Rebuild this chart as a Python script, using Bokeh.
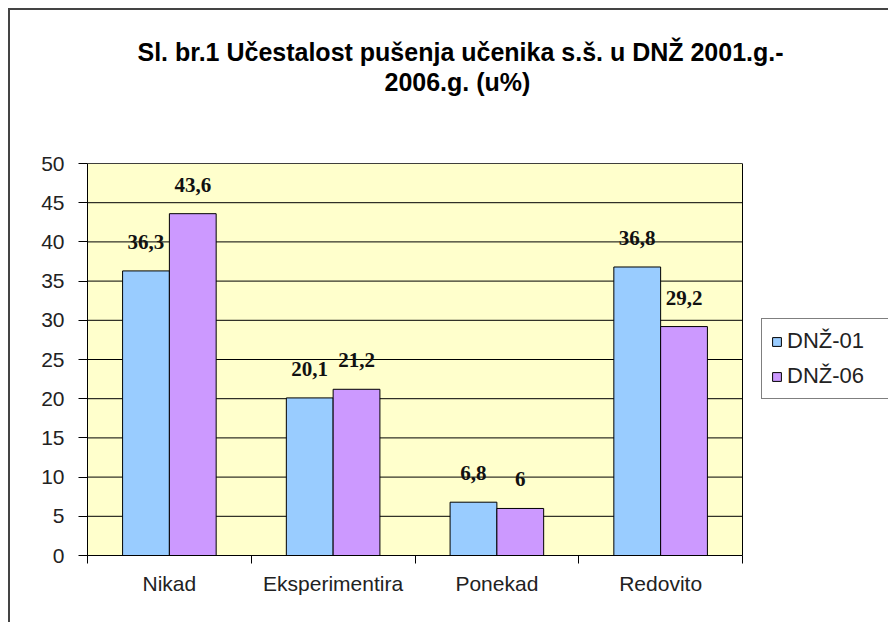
from bokeh.plotting import figure
from bokeh.models import Range1d, FixedTicker, Legend, LegendItem, ColumnDataSource, Title
from bokeh.core.properties import value
from bokeh.embed import file_html
from bokeh.resources import INLINE

# ---- data ----
title_line1 = "Sl. br.1 Učestalost pušenja učenika s.š. u DNŽ 2001.g.-"
title_line2 = "2006.g. (u%)"
categories = ["Nikad", "Eksperimentira", "Ponekad", "Redovito"]
series_names = ["DNŽ-01", "DNŽ-06"]
dnz01 = [36.3, 20.1, 6.8, 36.8]
dnz06 = [43.6, 21.2, 6.0, 29.2]
y_ticks = [0, 5, 10, 15, 20, 25, 30, 35, 40, 45, 50]

colors = ["#99CCFF", "#CC99FF"]

# ---- layout helpers ----
n_cat = len(categories)
y_max = y_ticks[-1]
plot_w = 655          # pixel width of the yellow plot area
frame_w = 801         # frame also holds the legend to the right of the plot area
x_end = n_cat * frame_w / plot_w

bar_w = 1 / 3.5
idx = list(range(n_cat))
x01 = [i + 0.5 - bar_w / 2 for i in idx]
x06 = [i + 0.5 + bar_w / 2 for i in idx]

def fmt(v):
    return f"{v:g}".replace(".", ",")

src01 = ColumnDataSource(dict(x=x01, top=dnz01, lab=[fmt(v) for v in dnz01]))
src06 = ColumnDataSource(dict(x=x06, top=dnz06, lab=[fmt(v) for v in dnz06]))
sources = [src01, src06]

p = figure(frame_width=frame_w, frame_height=392,
           x_range=Range1d(0, x_end), y_range=Range1d(0, y_max),
           output_backend="svg", toolbar_location=None,
           min_border_left=77, min_border_right=0, min_border_top=153, min_border_bottom=67)
p.styles = {"margin-left": "8px", "margin-top": "8px",
            "border-top": "2px solid #444", "border-left": "2px solid #444"}
p.background_fill_color = "white"
p.border_fill_color = "white"
p.outline_line_color = None

# titles: p.title is the outer line; spacer then line 2 are stacked from the plot outwards
def title_style(t):
    t.text_font = "Liberation Sans"
    t.text_font_size = "25px"
    t.text_font_style = "bold"
    t.text_color = "black"
    t.align = "left"

p.title.text = title_line1
title_style(p.title)
p.title.offset = 50
p.title.standoff = 0
spacer = Title(text=" ", text_font_size="1px", standoff=65)
p.add_layout(spacer, "above")
t2 = Title(text=title_line2, offset=297, standoff=0)
title_style(t2)
p.add_layout(t2, "above")

# plot area: yellow box with black border, horizontal grid lines
p.xgrid.visible = False
p.ygrid.visible = False
p.quad(left=[0], right=[n_cat], bottom=[0], top=[y_max],
       fill_color="#FFFFCC", line_color="black", line_width=1)
p.segment(x0=[0] * len(y_ticks), x1=[n_cat] * len(y_ticks), y0=y_ticks, y1=y_ticks,
          line_color="black", line_width=1)

# y axis
ya = p.yaxis[0]
ya.ticker = FixedTicker(ticks=y_ticks)
ya.axis_line_color = "black"
ya.major_tick_line_color = "black"
ya.major_tick_out = 9
ya.major_tick_in = 0
ya.minor_tick_line_color = None
ya.major_label_text_font = "Liberation Sans"
ya.major_label_text_font_size = "21px"
ya.major_label_text_color = "#222222"
ya.major_label_standoff = 14

# x axis: labels at category centres, tick marks at category boundaries
centers = [i + 0.5 for i in idx]
bounds = list(range(n_cat + 1))
xa = p.xaxis[0]
xa.bounds = (0, n_cat)
xa.ticker = FixedTicker(ticks=centers, minor_ticks=bounds)
xa.major_label_overrides = {c: n for c, n in zip(centers, categories)}
xa.axis_line_color = "black"
xa.major_tick_line_color = None
xa.major_tick_out = 0
xa.major_tick_in = 0
xa.minor_tick_line_color = "black"
xa.minor_tick_out = 8
xa.minor_tick_in = 0
xa.major_label_text_font = "Liberation Sans"
xa.major_label_text_font_size = "21px"
xa.major_label_text_color = "#222222"
xa.major_label_standoff = 8

# bars
r1 = p.vbar(x="x", top="top", bottom=0, width=bar_w, source=src01,
            fill_color=colors[0], line_color="black", line_width=1)
r2 = p.vbar(x="x", top="top", bottom=0, width=bar_w, source=src06,
            fill_color=colors[1], line_color="black", line_width=1)

# value labels
for s in sources:
    p.text(x="x", y="top", text="lab", source=s, text_align="center", text_baseline="alphabetic",
           y_offset=-29, text_font=value("Liberation Serif"), text_font_style="bold",
           text_font_size="21px", text_color="#111111")

legend = Legend(items=[LegendItem(label=n, renderers=[r]) for n, r in zip(series_names, [r1, r2])],
                location=(674, 156))
legend.border_line_color = "black"
legend.border_line_width = 1
legend.background_fill_color = "white"
legend.background_fill_alpha = 1
legend.label_text_font = "Liberation Sans"
legend.label_text_font_size = "22px"
legend.label_text_color = "#222222"
legend.glyph_width = 11
legend.glyph_height = 11
legend.label_standoff = 5
legend.label_width = 92
legend.label_height = 24
legend.padding = 9
legend.spacing = 9
legend.margin = 0
p.add_layout(legend)

open("out.html", "w").write(file_html(p, INLINE))
